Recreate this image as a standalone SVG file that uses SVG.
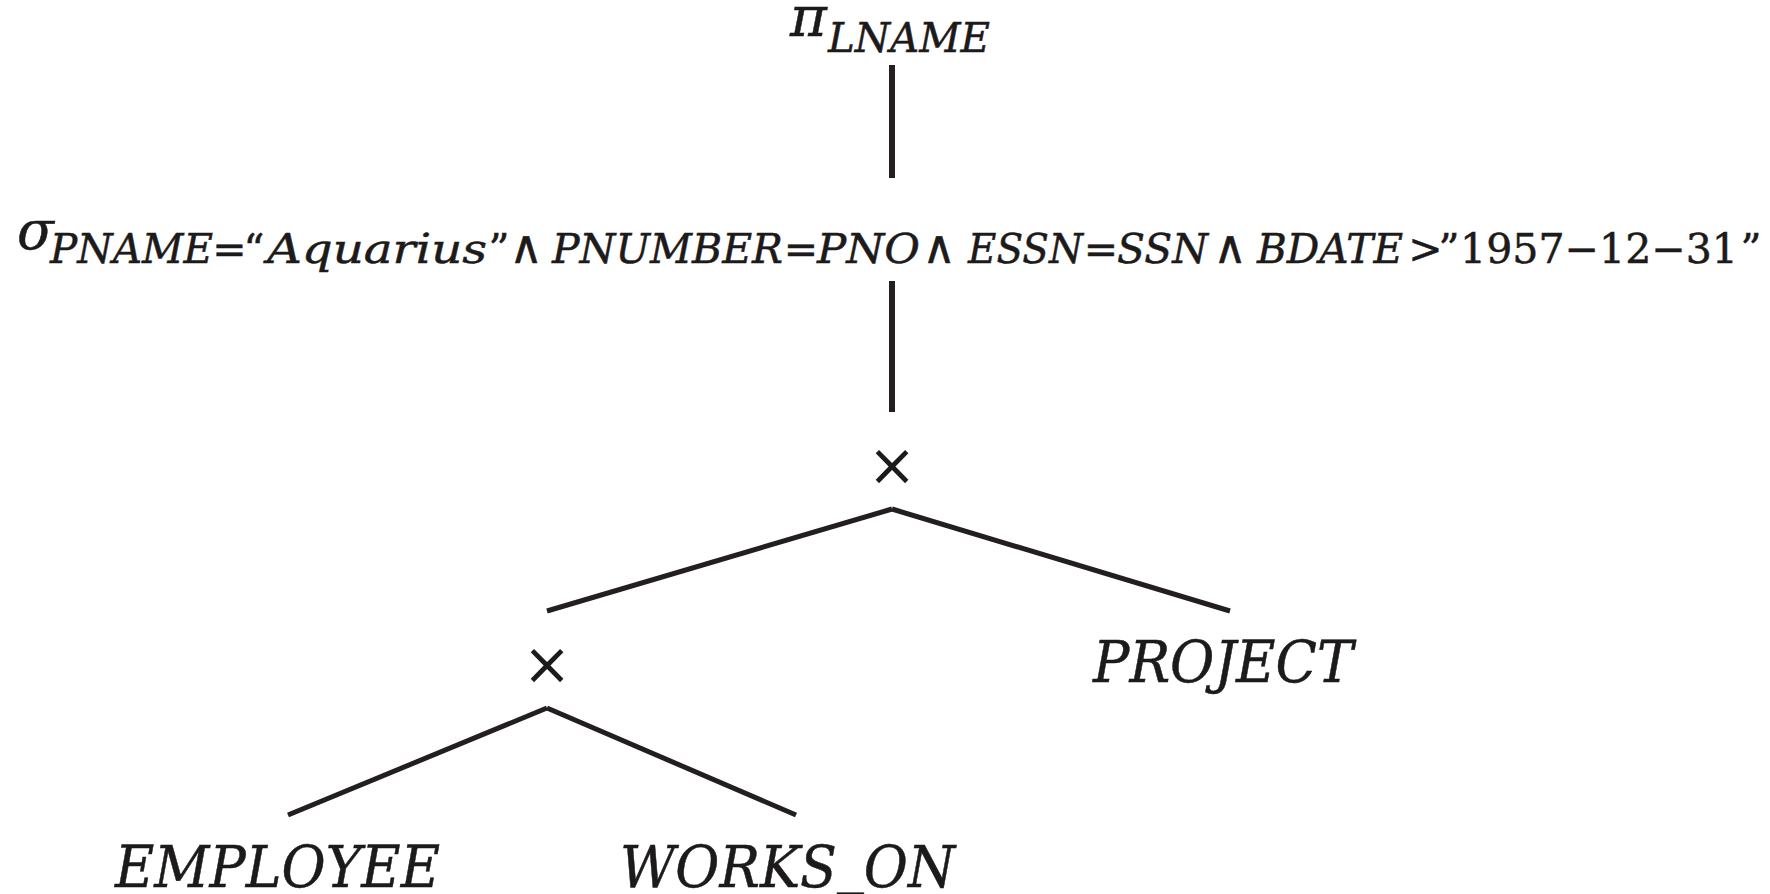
<svg xmlns="http://www.w3.org/2000/svg" width="1770" height="894" viewBox="0 0 1770 894">
  <style>
    text { font-family: "DejaVu Serif", "Liberation Serif", serif; fill: #1c1a1b; stroke: #1c1a1b; stroke-width: 0.5px; }
    .v { font-style: italic; }
    .up { font-style: normal; }
    .sub { font-size: 41px; }
    .and { font-family: "DejaVu Sans", sans-serif; font-size: 46px; text-anchor: middle; }
    .rel { font-size: 58px; font-style: italic; }
    .x { font-family: "DejaVu Sans", sans-serif; font-size: 58px; text-anchor: middle; stroke-width: 0; }
    .mid { text-anchor: middle; }
    .edge { stroke: #231f20; fill: none; stroke-linecap: butt; }
  </style>
  <rect width="1770" height="894" fill="#ffffff"/>

  <!-- tree edges -->
  <g id="edges">
    <line class="edge" x1="892" y1="65" x2="892" y2="178" stroke-width="6"/>
    <line class="edge" x1="892" y1="281" x2="892" y2="412" stroke-width="6"/>
    <line class="edge" x1="547" y1="611" x2="892" y2="509" stroke-width="5"/>
    <line class="edge" x1="892" y1="509" x2="1230" y2="611" stroke-width="5"/>
    <line class="edge" x1="288" y1="815" x2="547" y2="708" stroke-width="5"/>
    <line class="edge" x1="547" y1="708" x2="796" y2="815" stroke-width="5"/>
  </g>

  <!-- projection: pi LNAME -->
  <g id="node-projection">
    <text class="v" x="790" y="36" font-size="56">π</text>
    <text class="v sub" x="828" y="52" textLength="162" lengthAdjust="spacingAndGlyphs">LNAME</text>
  </g>

  <!-- selection: sigma with its condition -->
  <g id="node-selection">
    <text class="v" x="17" y="249" font-size="54">σ</text>
    <text class="v sub" x="50" y="263" textLength="163" lengthAdjust="spacingAndGlyphs">PNAME</text>
    <text class="up sub mid" x="229.5" y="263">=</text>
    <text class="up sub mid" x="254" y="263" font-size="46">“</text>
    <text class="v sub" x="267" y="263" textLength="220" lengthAdjust="spacingAndGlyphs">Aquarius</text>
    <text class="up sub mid" x="499" y="263" font-size="46">”</text>
    <text class="and" x="526" y="263">∧</text>
    <text class="v sub" x="552" y="263" textLength="231" lengthAdjust="spacingAndGlyphs">PNUMBER</text>
    <text class="up sub mid" x="801" y="263">=</text>
    <text class="v sub" x="817" y="263" textLength="103" lengthAdjust="spacingAndGlyphs">PNO</text>
    <text class="and" x="939" y="263">∧</text>
    <text class="v sub" x="968" y="263" textLength="115" lengthAdjust="spacingAndGlyphs">ESSN</text>
    <text class="up sub mid" x="1101" y="263">=</text>
    <text class="v sub" x="1117" y="263" textLength="91" lengthAdjust="spacingAndGlyphs">SSN</text>
    <text class="and" x="1230" y="263">∧</text>
    <text class="v sub" x="1257" y="263" textLength="146" lengthAdjust="spacingAndGlyphs">BDATE</text>
    <text class="up sub mid" x="1425.5" y="263">&gt;</text>
    <text class="up sub mid" x="1449" y="263" font-size="46">”</text>
    <text class="up sub" x="1460" y="263" textLength="278" lengthAdjust="spacingAndGlyphs">1957−12−31</text>
    <text class="up sub mid" x="1751" y="263" font-size="46">”</text>
  </g>

  <!-- cartesian products -->
  <g id="node-product-top">
    <text class="x" x="892" y="485">×</text>
  </g>
  <g id="node-product-bottom">
    <text class="x" x="547" y="684">×</text>
  </g>

  <!-- base relations -->
  <g id="node-project">
    <text class="rel" x="1093" y="682" textLength="260" lengthAdjust="spacingAndGlyphs">PROJECT</text>
  </g>
  <g id="node-employee">
    <text class="rel" x="115" y="887" textLength="325" lengthAdjust="spacingAndGlyphs">EMPLOYEE</text>
  </g>
  <g id="node-works-on">
    <text class="rel" x="620" y="887" textLength="335" lengthAdjust="spacingAndGlyphs">WORKS<tspan dy="-6">_</tspan><tspan dy="6">ON</tspan></text>
  </g>
</svg>
